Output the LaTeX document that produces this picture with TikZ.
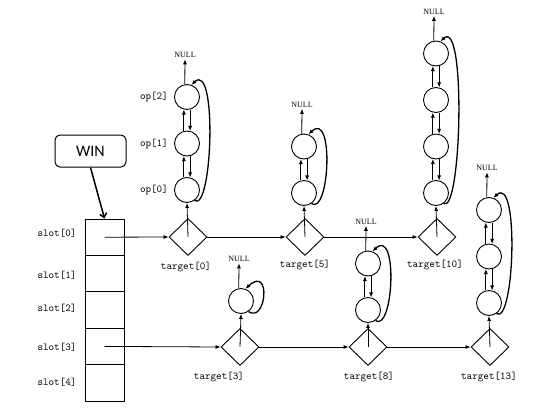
\documentclass[tikz,border=0pt]{standalone}
\usepackage{fontspec}
\setmainfont{Liberation Serif}
\newfontfamily\winfont{Carlito}
\usetikzlibrary{shapes.geometric,arrows.meta,positioning,calc}

\begin{document}
\begin{tikzpicture}[
    x=1pt, y=-1pt,
    lbl/.style={font=\ttfamily\fontsize{10.6}{11}\selectfont, inner sep=1pt},
    nulltxt/.style={font=\fontsize{8}{9}\selectfont, inner sep=1.5pt},
    opnode/.style={circle, draw, line width=0.9pt, minimum size=25pt, inner sep=0pt},
    tgt/.style={diamond, draw, line width=0.9pt, minimum width=38pt, minimum height=37pt, inner sep=0pt},
    cell/.style={draw, line width=1pt, minimum width=39pt, minimum height=36.4pt, inner sep=0pt},
    link/.style={-{Latex[length=5pt,width=4pt]}, line width=0.8pt},
    back/.style={-{Latex[length=5pt,width=4pt]}, line width=1.3pt},
    ]
    \useasboundingbox (0,0) rectangle (548,407);
    % window and its slots
    \node[draw, rounded corners=5pt, line width=1pt, minimum width=71pt, minimum height=32pt,
      font=\winfont\fontsize{16}{18}\selectfont] (win) at (90.5,151) {WIN};
    \foreach \k in {0,...,4}
      \node[cell] (slot\k) at (104.5,{237.2+36.4*\k}) {};
    \foreach \k/\y in {0/233,1/275,2/308,3/347,4/382}
      \node[lbl] (s\k) at (57,\y) {slot[\k]};
    \draw[-{Straight Barb[length=4pt,width=7pt]}, line width=1.5pt] (win.south) -- (slot0.north);
    % targets with their op chains
    \foreach \t/\dx/\dy/\cx/\cy/\n/\lx/\ly in {0/188/237/187/190/3/186/267,
        5/305/237/304/193/2/305/265, 10/437/237/436/193/4/435/265,
        3/240/347/241/301/1/219/377, 8/368/347/368/310/2/369/377,
        13/490/347/489/303/3/489/377}{
      \node[tgt] (t\t) at (\dx,\dy) {};
      \node[lbl] (l\t) at (\lx,\ly) {target[\t]};
      \foreach \i in {1,...,\n}{
        \node[opnode] (op\t-\i) at (\cx,{\cy-(\i-1)*46.5}) {};
        \ifnum\i>1
          \pgfmathtruncatemacro\j{\i-1}
          \draw[link] (op\t-\j.104) -- (op\t-\i.256);
          \draw[link] (op\t-\i.284) -- (op\t-\j.76);
        \fi
      }
      \node[nulltxt] (n\t) at ({\cx-2},{\cy-(\n-1)*46.5-42}) {NULL};
      \draw[link] (op\t-\n.100) -- (n\t.south);
      \draw[link] (t\t.center) -- (op\t-1.south);
      \draw[back] (op\t-1.-55) .. controls ($(op\t-1.-55)+(18,12)$)
        and ($(op\t-\n.70)+(26,-24)$) .. (op\t-\n.70);
    }
    % op names of the first chain
    \foreach \i in {1,2,3}{
      \pgfmathtruncatemacro\j{\i-1}
      \node[lbl, left=5pt of op0-\i] (o\j) {op[\j]};
    }
    % hash links
    \draw[link] (slot0.center) -- (t0.west);
    \draw[link] (t0.east) -- (t5.west);
    \draw[link] (t5.east) -- (t10.west);
    \draw[link] (slot3.center) -- (t3.west);
    \draw[link] (t3.east) -- (t8.west);
    \draw[link] (t8.east) -- (t13.west);
\end{tikzpicture}
\end{document}
